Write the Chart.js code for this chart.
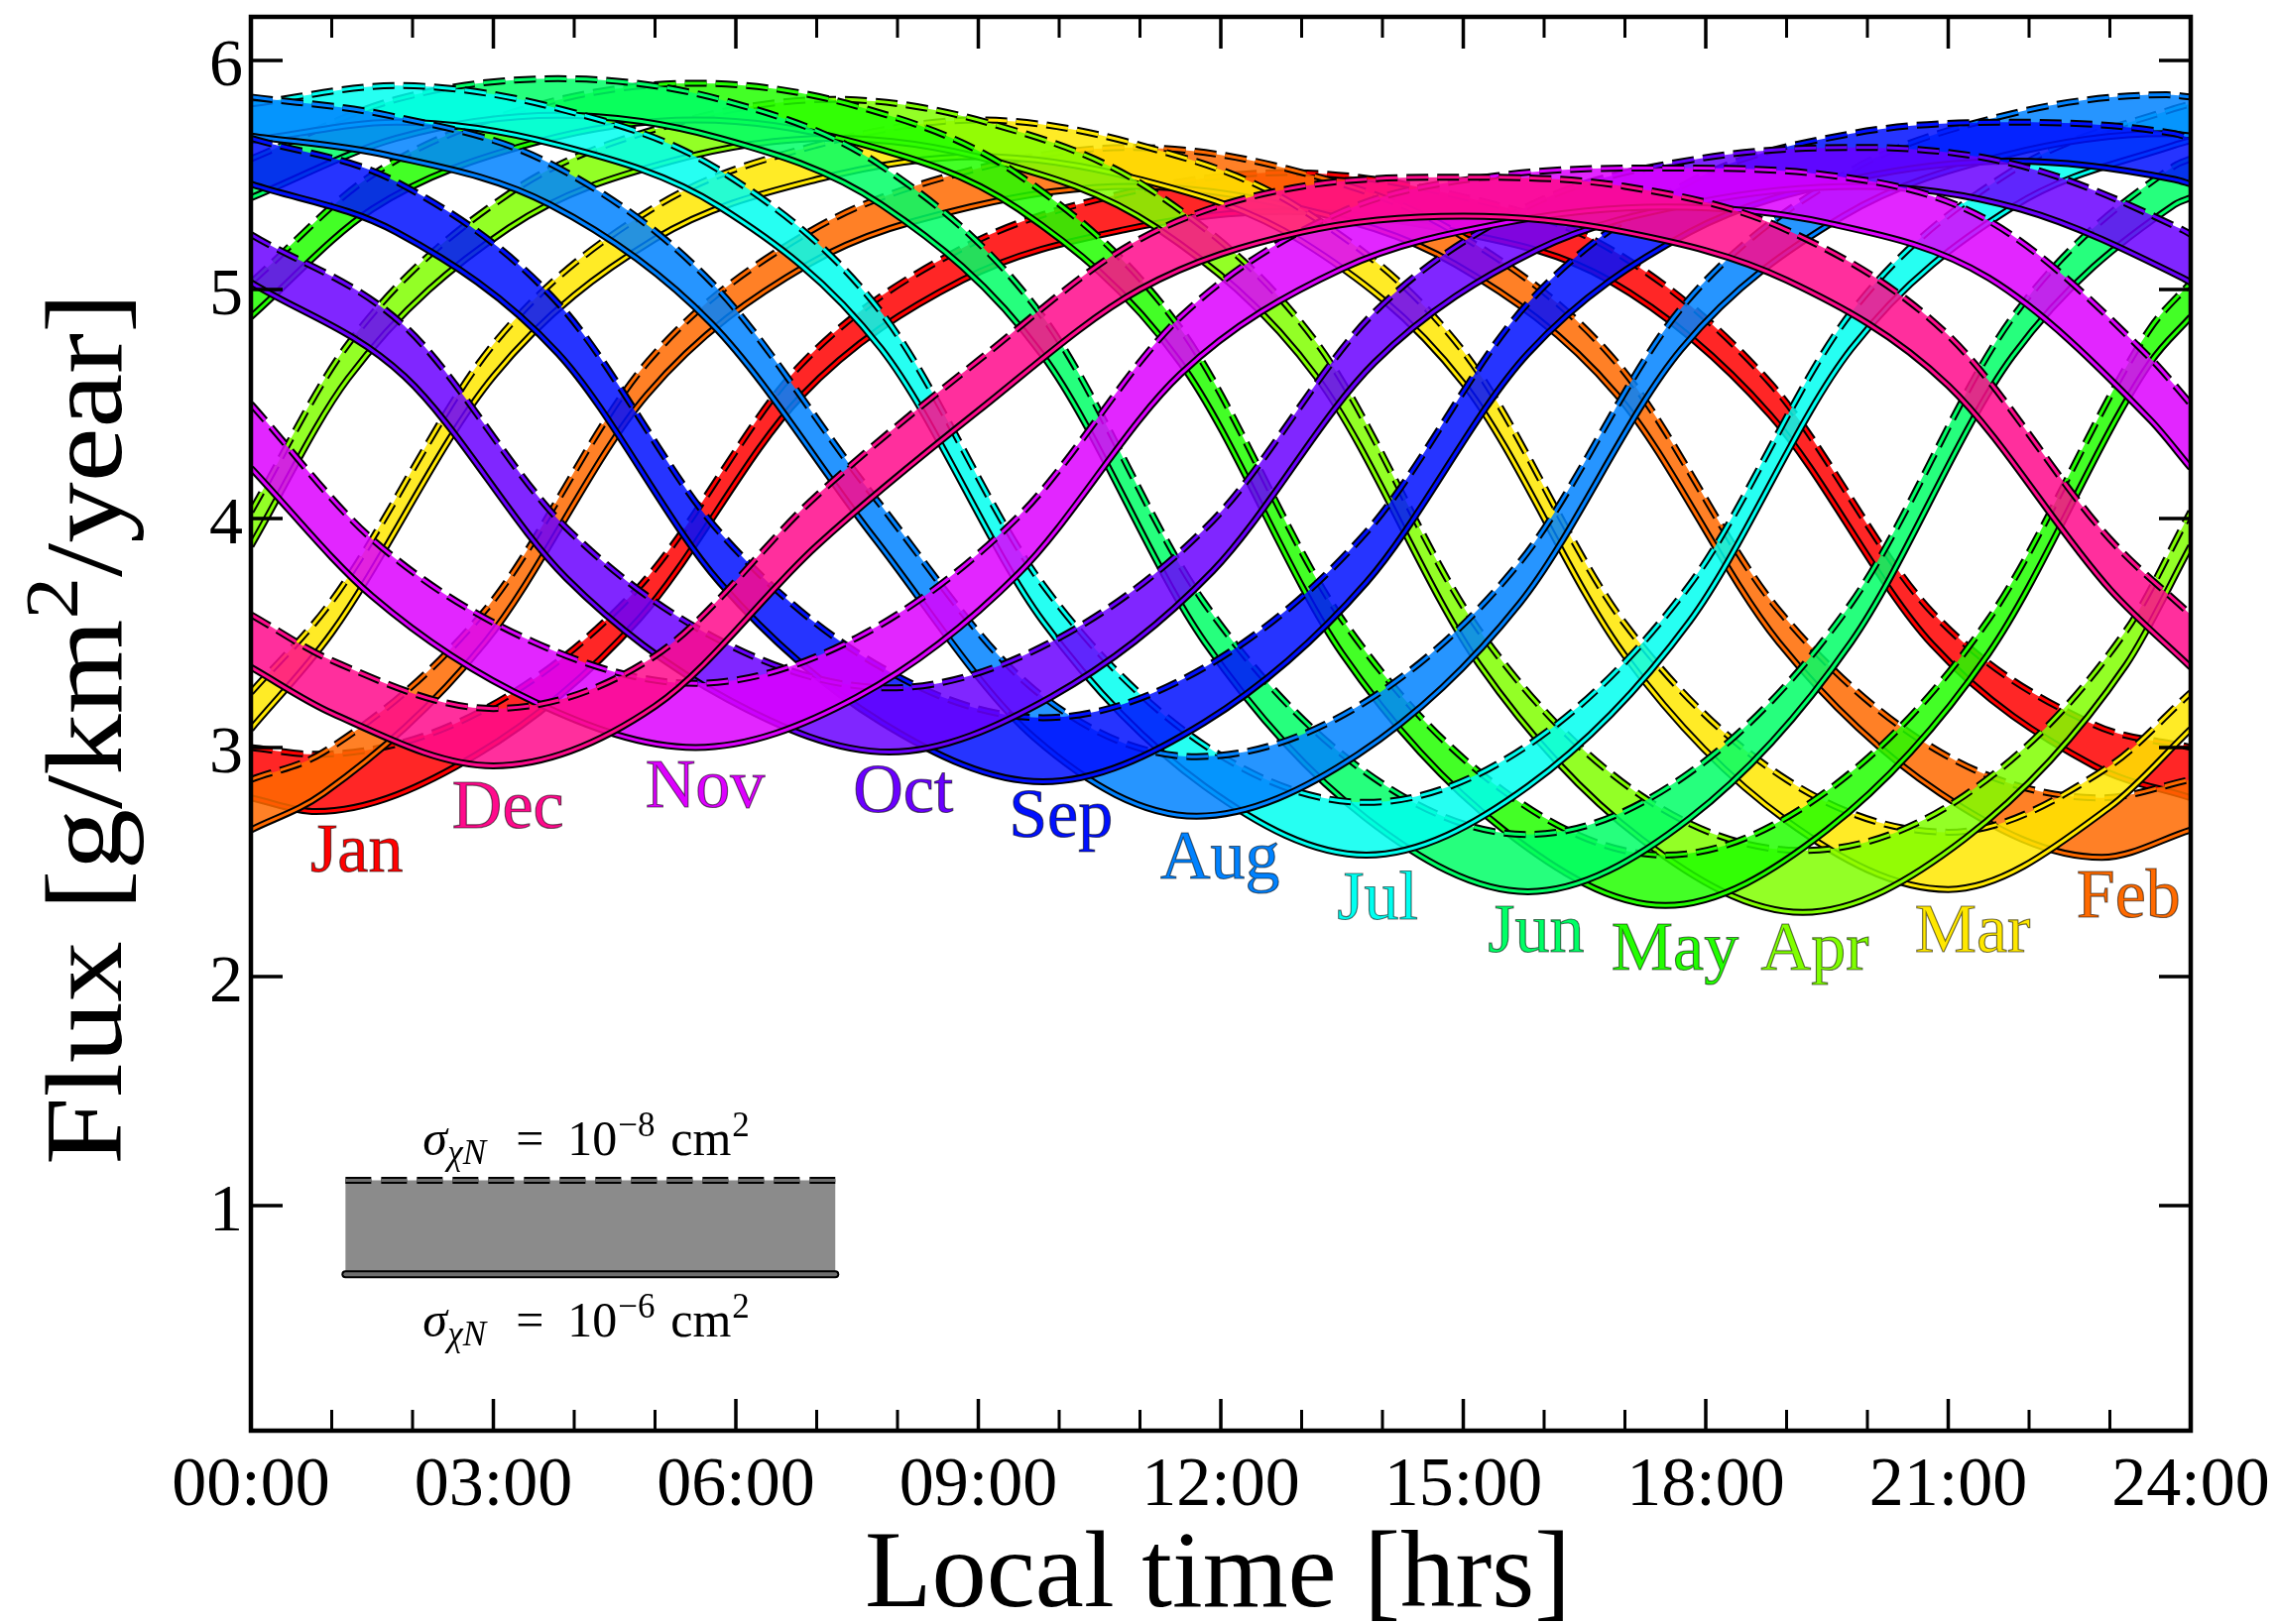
<!DOCTYPE html>
<html><head><meta charset="utf-8">
<script src="https://cdn.jsdelivr.net/npm/chart.js@4.4.1/dist/chart.umd.min.js"></script>
<style>html,body{margin:0;padding:0;background:#fff;}canvas{display:block;}</style>
</head><body>
<canvas id="c" width="2295" height="1638"></canvas>
<script>
// ---------- data ----------
const MONTHS = ['Jan','Feb','Mar','Apr','May','Jun','Jul','Aug','Sep','Oct','Nov','Dec'];
const LINE_COLORS = ['#ff0000','#ff6a00','#ffe800','#80ff00','#22ff00','#00ff66','#00fff0','#0082ff','#0010ff','#6a00ff','#dd00ff','#ff0a8c'];

const JAN_T   = [0, 0.8, 2.8, 4.8, 6.8, 8.8, 10.8, 12.8, 14.8, 16.8, 18.8, 20.8, 22.8, 24];
const JAN_LOW = [2.78, 2.72, 2.97, 3.56, 4.53, 5.04, 5.26, 5.34, 5.26, 5.04, 4.45, 3.45, 2.92, 2.78];
const JAN_UP  = [3.00, 2.97, 3.15, 3.70, 4.67, 5.18, 5.42, 5.51, 5.42, 5.18, 4.59, 3.59, 3.10, 3.00];

const FEB_T   = [0, 0.9, 2.9, 4.9, 6.9, 8.9, 10.9, 12.9, 14.9, 16.9, 18.9, 20.9, 22.9, 24];
const FEB_LOW = [2.64, 2.80, 3.46, 4.54, 5.11, 5.36, 5.45, 5.36, 5.11, 4.54, 3.46, 2.80, 2.52, 2.64];
const FEB_UP  = [2.86, 2.98, 3.60, 4.68, 5.25, 5.52, 5.62, 5.52, 5.25, 4.68, 3.60, 2.98, 2.78, 2.86];

const MAR_T   = [0, 1, 3, 5, 7, 9, 11, 13, 15, 17, 19, 21, 23, 24];
const MAR_LOW = [3.08, 3.50, 4.62, 5.22, 5.48, 5.58, 5.48, 5.21, 4.59, 3.40, 2.68, 2.38, 2.74, 3.08];
const MAR_UP  = [3.24, 3.64, 4.76, 5.36, 5.63, 5.74, 5.63, 5.35, 4.73, 3.54, 2.86, 2.63, 2.92, 3.24];

const APR_T   = [0, 1.2, 3.2, 5.2, 7.2, 9.2, 11.2, 13.2, 15.2, 17.2, 19.2, 21.2, 23.2, 24];
const APR_LOW = [3.88, 4.61, 5.27, 5.56, 5.66, 5.56, 5.27, 4.61, 3.36, 2.60, 2.28, 2.60, 3.36, 3.88];
const APR_UP  = [4.03, 4.76, 5.42, 5.72, 5.83, 5.72, 5.42, 4.76, 3.51, 2.79, 2.55, 2.79, 3.51, 4.03];

const MAY_T   = [0, 1.5, 3.5, 5.5, 7.5, 9.5, 11.5, 13.5, 15.5, 17.5, 19.5, 21.5, 23.5, 24];
const MAY_LOW = [4.88, 5.35, 5.64, 5.74, 5.64, 5.35, 4.68, 3.41, 2.64, 2.31, 2.64, 3.41, 4.68, 4.88];
const MAY_UP  = [5.03, 5.50, 5.80, 5.90, 5.80, 5.50, 4.83, 3.56, 2.81, 2.53, 2.81, 3.56, 4.83, 5.03];

const JUN_T   = [0, 1.8, 3.8, 5.8, 7.8, 9.8, 11.8, 13.8, 15.8, 17.8, 19.8, 21.8, 23.8, 24];
const JUN_LOW = [5.40, 5.66, 5.76, 5.66, 5.37, 4.71, 3.46, 2.69, 2.37, 2.69, 3.46, 4.71, 5.37, 5.40];
const JUN_UP  = [5.57, 5.83, 5.92, 5.83, 5.54, 4.88, 3.63, 2.89, 2.62, 2.89, 3.63, 4.88, 5.54, 5.57];

const JUL_T   = [0, 1.8, 3.8, 5.8, 7.8, 9.8, 11.8, 13.8, 15.8, 17.8, 19.8, 21.8, 23.8, 24];
const JUL_LOW = [5.65, 5.73, 5.63, 5.36, 4.74, 3.55, 2.83, 2.53, 2.83, 3.55, 4.74, 5.36, 5.63, 5.65];
const JUL_UP  = [5.81, 5.89, 5.79, 5.52, 4.90, 3.71, 3.01, 2.76, 3.01, 3.71, 4.90, 5.52, 5.79, 5.81];

const AUG_T   = [0, 1.7, 3.7, 5.7, 7.7, 9.7, 11.7, 13.7, 15.7, 17.7, 19.7, 21.7, 23.7, 24];
const AUG_LOW = [5.67, 5.585, 5.37, 4.85, 3.92, 3.04, 2.70, 2.97, 3.63, 4.74, 5.32, 5.585, 5.68, 5.67];
const AUG_UP  = [5.84, 5.76, 5.55, 5.03, 4.10, 3.25, 2.96, 3.18, 3.81, 4.92, 5.50, 5.76, 5.85, 5.84];

const SEP_T   = [0, 1.8, 3.8, 5.8, 7.8, 9.8, 11.8, 13.8, 15.8, 17.8, 19.8, 21.8, 23.8, 24];
const SEP_LOW = [5.46, 5.25, 4.72, 3.72, 3.11, 2.85, 3.11, 3.72, 4.72, 5.25, 5.48, 5.56, 5.48, 5.46];
const SEP_UP  = [5.66, 5.47, 4.94, 3.94, 3.35, 3.13, 3.35, 3.94, 4.94, 5.47, 5.68, 5.73, 5.68, 5.66];

const OCT_T   = [0, 1.9, 3.9, 5.9, 7.9, 9.9, 11.9, 13.9, 15.9, 17.9, 19.9, 21.9, 23.9, 24];
const OCT_LOW = [5.03, 4.62, 3.74, 3.21, 2.98, 3.22, 3.77, 4.68, 5.17, 5.38, 5.45, 5.35, 5.05, 5.03];
const OCT_UP  = [5.24, 4.84, 3.96, 3.45, 3.26, 3.46, 3.99, 4.90, 5.38, 5.57, 5.62, 5.54, 5.26, 5.24];

const NOV_T   = [0, 1.5, 3.5, 5.5, 7.5, 9.5, 11.5, 13.5, 15.5, 17.5, 19.5, 21.5, 23.5, 24];
const NOV_LOW = [4.22, 3.66, 3.20, 3.00, 3.22, 3.76, 4.63, 5.09, 5.29, 5.36, 5.29, 5.05, 4.43, 4.22];
const NOV_UP  = [4.50, 3.91, 3.46, 3.28, 3.48, 4.01, 4.88, 5.34, 5.50, 5.53, 5.50, 5.30, 4.70, 4.50];

const DEC_T   = [0, 1, 3, 5, 7, 9, 11, 13, 15, 17, 19, 21, 23, 24];
const DEC_LOW = [3.35, 3.15, 2.92, 3.18, 3.88, 4.47, 5.00, 5.25, 5.32, 5.25, 5.04, 4.58, 3.69, 3.35];
const DEC_UP  = [3.58, 3.38, 3.17, 3.40, 4.10, 4.69, 5.22, 5.45, 5.49, 5.45, 5.26, 4.80, 3.91, 3.58];

const X_TICKS = [0, 3, 6, 9, 12, 15, 18, 21, 24];
const X_TICK_LABELS = ['00:00','03:00','06:00','09:00','12:00','15:00','18:00','21:00','24:00'];
const X_MINOR = [1, 2, 4, 5, 7, 8, 10, 11, 13, 14, 16, 17, 19, 20, 22, 23];
const Y_TICKS = [1, 2, 3, 4, 5, 6];
const Y_TICK_LABELS = ['1','2','3','4','5','6'];

// month label anchors (hour, flux) — Jan..Dec
const LABEL_HOUR = [1.31, 23.23, 21.30, 19.35, 17.62, 15.90, 13.94, 11.99, 10.02, 8.07, 5.62, 3.18];
const LABEL_FLUX = [2.46, 2.26, 2.11, 2.03, 2.03, 2.11, 2.25, 2.43, 2.61, 2.72, 2.74, 2.65];

// legend box in (hour, flux)
const LEGEND_X = [1.17, 7.23];
const LEGEND_Y = [0.70, 1.11];

// ---------- build datasets ----------
const SERIES = [
  [JAN_T, JAN_LOW, JAN_UP], [FEB_T, FEB_LOW, FEB_UP], [MAR_T, MAR_LOW, MAR_UP],
  [APR_T, APR_LOW, APR_UP], [MAY_T, MAY_LOW, MAY_UP], [JUN_T, JUN_LOW, JUN_UP],
  [JUL_T, JUL_LOW, JUL_UP], [AUG_T, AUG_LOW, AUG_UP], [SEP_T, SEP_LOW, SEP_UP],
  [OCT_T, OCT_LOW, OCT_UP], [NOV_T, NOV_LOW, NOV_UP], [DEC_T, DEC_LOW, DEC_UP]
];

function pts(t, v) { return t.map((x, k) => ({ x: x, y: v[k] })); }
function rgba(hex, a) {
  const n = parseInt(hex.slice(1), 16);
  return 'rgba(' + ((n >> 16) & 255) + ',' + ((n >> 8) & 255) + ',' + (n & 255) + ',' + a + ')';
}

const DASH = [22, 9];
const common = { pointRadius: 0, pointHoverRadius: 0, tension: 0.4, cubicInterpolationMode: 'monotone',
                 borderCapStyle: 'butt', borderJoinStyle: 'round', fill: false };
const datasets = [];
SERIES.forEach((s, i) => {
  const base = (12 - i) * 10;
  const col = LINE_COLORS[i];
  const lowIdx = datasets.length;
  datasets.push(Object.assign({}, common, { label: MONTHS[i] + ' low', data: pts(s[0], s[1]), borderColor: '#000', borderWidth: 7, order: base + 3 }));
  datasets.push(Object.assign({}, common, { label: MONTHS[i] + ' low c', data: pts(s[0], s[1]), borderColor: col, borderWidth: 3, order: base + 2 }));
  datasets.push(Object.assign({}, common, { label: MONTHS[i] + ' band', data: pts(s[0], s[2]), borderColor: 'rgba(0,0,0,0)', borderWidth: 0,
                                            backgroundColor: rgba(col, 0.85), fill: lowIdx, order: base + 4 }));
  datasets.push(Object.assign({}, common, { label: MONTHS[i] + ' up', data: pts(s[0], s[2]), borderColor: '#000', borderWidth: 7, borderDash: DASH, order: base + 1 }));
  datasets.push(Object.assign({}, common, { label: MONTHS[i] + ' up c', data: pts(s[0], s[2]), borderColor: col, borderWidth: 3, borderDash: DASH, order: base }));
});

// ---------- decorations ----------
const FONT = '"Liberation Serif", "DejaVu Serif", serif';

function fitText(ctx, parts, x, y, targetW, align) {
  let w = 0;
  parts.forEach(p => { ctx.font = (p.italic ? 'italic ' : '') + p.size + 'px ' + FONT; p.w = ctx.measureText(p.t).width; w += p.w; });
  const sx = targetW ? targetW / w : 1;
  ctx.save();
  ctx.translate(x, y);
  ctx.scale(sx, 1);
  let cx = align === 'center' ? -w / 2 : 0;
  parts.forEach(p => { ctx.font = (p.italic ? 'italic ' : '') + p.size + 'px ' + FONT; ctx.fillText(p.t, cx, p.dy || 0); cx += p.w; });
  ctx.restore();
}

const decor = {
  id: 'decor',
  afterDatasetsDraw(chart) {
    const { ctx, chartArea: a, scales: { x, y } } = chart;
    ctx.save();

    // legend box
    const lx0 = x.getPixelForValue(LEGEND_X[0]), lx1 = x.getPixelForValue(LEGEND_X[1]);
    const lyT = y.getPixelForValue(LEGEND_Y[1]), lyB = y.getPixelForValue(LEGEND_Y[0]);
    ctx.fillStyle = 'rgba(100,100,100,0.75)';
    ctx.fillRect(lx0, lyT, lx1 - lx0, lyB - lyT);
    ctx.lineCap = 'round';
    ctx.strokeStyle = '#000'; ctx.lineWidth = 8;
    ctx.beginPath(); ctx.moveTo(lx0, lyB); ctx.lineTo(lx1, lyB); ctx.stroke();
    ctx.strokeStyle = '#6e6e6e'; ctx.lineWidth = 4;
    ctx.beginPath(); ctx.moveTo(lx0, lyB); ctx.lineTo(lx1, lyB); ctx.stroke();
    ctx.lineCap = 'butt';
    ctx.setLineDash([26, 10]);
    ctx.strokeStyle = '#000'; ctx.lineWidth = 7;
    ctx.beginPath(); ctx.moveTo(lx0, lyT); ctx.lineTo(lx1, lyT); ctx.stroke();
    ctx.strokeStyle = '#6e6e6e'; ctx.lineWidth = 3;
    ctx.beginPath(); ctx.moveTo(lx0, lyT); ctx.lineTo(lx1, lyT); ctx.stroke();
    ctx.setLineDash([]);

    ctx.fillStyle = '#000';
    ctx.textBaseline = 'alphabetic';
    ctx.textAlign = 'left';
    const drawSigma = (x0, base, expo) => {
      const parts = [
        { t: '\u03C3', s: 50, it: true, dx: 0, dy: 0 },
        { t: '\u03C7N', s: 35, it: true, dx: 25, dy: 9 },
        { t: '=', s: 50, it: false, dx: 94, dy: 0 },
        { t: '10', s: 50, it: false, dx: 146, dy: 0 },
        { t: '\u2212' + expo, s: 35, it: false, dx: 197, dy: -19 },
        { t: 'cm', s: 50, it: false, dx: 250, dy: 0 },
        { t: '2', s: 35, it: false, dx: 312, dy: -19 }
      ];
      parts.forEach(p => { ctx.font = (p.it ? 'italic ' : '') + p.s + 'px ' + FONT; ctx.fillText(p.t, x0 + p.dx, base + p.dy); });
    };
    drawSigma(lx0 + 78, lyT - 26, '8');
    drawSigma(lx0 + 78, lyB + 63, '6');

    // month labels
    ctx.textAlign = 'center';
    ctx.font = '70px ' + FONT;
    ctx.lineWidth = 1.2;
    ctx.strokeStyle = 'rgba(0,0,0,0.55)';
    MONTHS.forEach((m, i) => {
      const px = x.getPixelForValue(LABEL_HOUR[i]), py = y.getPixelForValue(LABEL_FLUX[i]);
      ctx.fillStyle = LINE_COLORS[i];
      ctx.fillText(m, px, py);
      ctx.strokeText(m, px, py);
    });

    // frame
    ctx.strokeStyle = '#000';
    ctx.lineWidth = 4.5;
    ctx.strokeRect(a.left, a.top, a.right - a.left, a.bottom - a.top);

    // ticks
    ctx.lineWidth = 3.5;
    ctx.beginPath();
    X_TICKS.forEach(v => { const p = x.getPixelForValue(v); ctx.moveTo(p, a.bottom); ctx.lineTo(p, a.bottom - 32); ctx.moveTo(p, a.top); ctx.lineTo(p, a.top + 32); });
    Y_TICKS.forEach(v => { const p = y.getPixelForValue(v); ctx.moveTo(a.left, p); ctx.lineTo(a.left + 32, p); ctx.moveTo(a.right, p); ctx.lineTo(a.right - 32, p); });
    ctx.stroke();
    ctx.lineWidth = 3;
    ctx.beginPath();
    X_MINOR.forEach(v => { const p = x.getPixelForValue(v); ctx.moveTo(p, a.bottom); ctx.lineTo(p, a.bottom - 21); ctx.moveTo(p, a.top); ctx.lineTo(p, a.top + 21); });
    ctx.stroke();

    // tick labels
    ctx.fillStyle = '#000';
    ctx.font = '70px ' + FONT;
    ctx.textAlign = 'center';
    X_TICKS.forEach((v, i) => ctx.fillText(X_TICK_LABELS[i], x.getPixelForValue(v), 1518));
    ctx.font = '68px ' + FONT;
    ctx.textAlign = 'right';
    Y_TICKS.forEach((v, i) => ctx.fillText(Y_TICK_LABELS[i], 245, y.getPixelForValue(v) + 25));

    // axis titles
    ctx.textAlign = 'left';
    fitText(ctx, [{ t: 'Local time [hrs]', size: 110 }], 1228, 1620, 712, 'center');
    ctx.save();
    ctx.translate(122, 735);
    ctx.rotate(-Math.PI / 2);
    fitText(ctx, [{ t: 'Flux [g/km', size: 110 }, { t: '2', size: 76, dy: -44 }, { t: '/year]', size: 110 }], 0, 0, 880, 'center');
    ctx.restore();

    ctx.restore();
  }
};

new Chart(document.getElementById('c').getContext('2d'), {
  type: 'line',
  data: { datasets: datasets },
  options: {
    responsive: false,
    animation: false,
    devicePixelRatio: 1,
    layout: { padding: { left: 253, right: 86, top: 17, bottom: 195 } },
    scales: {
      x: { type: 'linear', min: 0, max: 24, display: false },
      y: { type: 'linear', min: 0.017, max: 6.19, display: false }
    },
    plugins: { legend: { display: false }, tooltip: { enabled: false } },
    events: []
  },
  plugins: [decor]
});
</script>
</body></html>
